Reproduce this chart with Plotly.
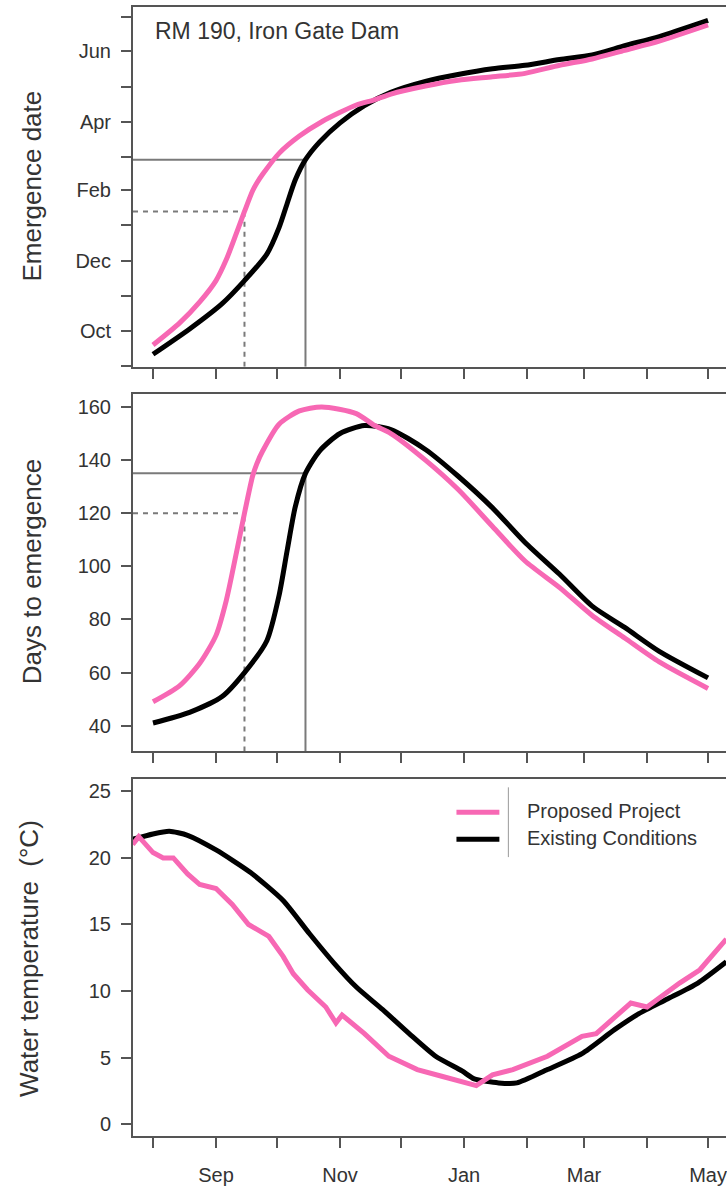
import pandas as pd
import plotly.graph_objects as go

# ---- Days to emergence by spawning date ----
spawn_dates_proposed = [
    "2001-08-01", "2001-08-14", "2001-08-24", "2001-09-01", "2001-09-06",
    "2001-09-11", "2001-09-15", "2001-09-19", "2001-09-21", "2001-09-24",
    "2001-10-02", "2001-10-12", "2001-10-23", "2001-11-09", "2001-11-18",
    "2001-11-26", "2001-12-13", "2001-12-29", "2002-01-15", "2002-01-31",
    "2002-02-17", "2002-03-05", "2002-03-21", "2002-04-07", "2002-05-01",
]
days_proposed = [
    49, 55, 63.5, 74, 87,
    105, 120, 134, 138.5, 143.5,
    153.5, 158.5, 160, 157.5, 153,
    150, 140, 129, 115, 102,
    92, 81.5, 73, 64, 54,
]

spawn_dates_existing = [
    "2001-08-01", "2001-08-19", "2001-09-04", "2001-09-15", "2001-09-26",
    "2001-10-02", "2001-10-06", "2001-10-10", "2001-10-15", "2001-10-22",
    "2001-11-01", "2001-11-13", "2001-11-26", "2001-12-13", "2001-12-29",
    "2002-01-15", "2002-01-31", "2002-02-17", "2002-03-05", "2002-03-21",
    "2002-04-07", "2002-05-01",
]
days_existing = [
    41, 45, 51, 60, 72,
    89, 106, 122.5, 135, 143.5,
    150, 153, 151.5, 144, 134,
    122, 109, 97, 85, 77,
    68, 58,
]

# ---- Water temperature (deg C) ----
temp_dates_proposed = [
    "2001-07-22", "2001-07-25", "2001-08-01", "2001-08-06", "2001-08-11",
    "2001-08-18", "2001-08-24", "2001-09-01", "2001-09-09", "2001-09-17",
    "2001-09-27", "2001-10-04", "2001-10-09", "2001-10-16", "2001-10-25",
    "2001-10-30", "2001-11-02", "2001-11-13", "2001-11-25", "2001-12-09",
    "2001-12-21", "2002-01-04", "2002-01-07", "2002-01-15", "2002-01-25",
    "2002-02-11", "2002-02-28", "2002-03-07", "2002-03-24", "2002-04-01",
    "2002-04-17", "2002-04-27", "2002-05-10",
]
temp_proposed = [
    21.0, 21.6, 20.4, 20.0, 20.0,
    18.8, 18.0, 17.7, 16.5, 15.0,
    14.1, 12.6, 11.3, 10.1, 8.8,
    7.6, 8.2, 6.8, 5.1, 4.1,
    3.6, 3.1, 2.9, 3.7, 4.1,
    5.1, 6.6, 6.8, 9.1, 8.8,
    10.6, 11.6, 13.9,
]

temp_dates_existing = [
    "2001-07-22", "2001-08-01", "2001-08-09", "2001-08-18", "2001-09-01",
    "2001-09-18", "2001-10-04", "2001-10-17", "2001-10-29", "2001-11-09",
    "2001-11-22", "2001-12-05", "2001-12-18", "2001-12-31", "2002-01-06",
    "2002-01-18", "2002-01-27", "2002-02-11", "2002-02-28", "2002-03-16",
    "2002-03-28", "2002-04-11", "2002-04-26", "2002-05-10",
]
temp_existing = [
    21.4, 21.8, 22.0, 21.7, 20.6,
    18.9, 16.8, 14.3, 12.1, 10.3,
    8.6, 6.8, 5.1, 4.0, 3.4,
    3.1, 3.1, 4.1, 5.3, 7.1,
    8.3, 9.4, 10.6, 12.2,
]

# ---- Example spawning dates marked with guide lines ----
guide_spawn_proposed = "2001-09-15"
guide_days_proposed = 120
guide_spawn_existing = "2001-10-15"
guide_days_existing = 135

# ---- Tick labels ----
x_tick_dates = ["2001-08-01", "2001-09-01", "2001-10-01", "2001-11-01", "2001-12-01",
                "2002-01-01", "2002-02-01", "2002-03-01", "2002-04-01", "2002-05-01"]
x_tick_labels = ["", "Sep", "", "Nov", "", "Jan", "", "Mar", "", "May"]
y_tick_dates = ["2001-09-01", "2001-10-01", "2001-11-01", "2001-12-01", "2002-01-01",
                "2002-02-01", "2002-03-01", "2002-04-01", "2002-05-01", "2002-06-01",
                "2002-07-01"]
y_tick_labels = ["", "Oct", "", "Dec", "", "Feb", "", "Apr", "", "Jun", ""]
days_ticks = [40, 60, 80, 100, 120, 140, 160]
temp_ticks = [0, 5, 10, 15, 20, 25]

PINK = "#F768B4"
BLACK = "#000000"
AXIS = "#555555"
GUIDE = "#7a7a7a"
TEXT = "#333333"
FONT = "Liberation Sans, Arial, sans-serif"

W, H = 727, 1186
ML = 133

x_range = ["2001-07-22 04:00", "2002-05-09 20:00"]
date_y_range = ["2001-08-31 03:00", "2002-07-09 16:00"]
days_range = [30.3, 165]
temp_range = [-0.9, 25.9]


def px_x(px):
    return (px - ML) / (W - ML)


def px_y(py):
    return 1 - py / H


# emergence date = spawning date + days to emergence
emerge_proposed = pd.to_datetime(spawn_dates_proposed) + pd.to_timedelta(days_proposed, unit="D")
emerge_existing = pd.to_datetime(spawn_dates_existing) + pd.to_timedelta(days_existing, unit="D")
guide_emerge_proposed = pd.Timestamp(guide_spawn_proposed) + pd.Timedelta(days=guide_days_proposed)
guide_emerge_existing = pd.Timestamp(guide_spawn_existing) + pd.Timedelta(days=guide_days_existing)

fig = go.Figure()

line_kw = dict(mode="lines", showlegend=False, hoverinfo="skip")
smooth = dict(width=5, shape="spline", smoothing=0.7)

# top panel: emergence date
fig.add_trace(go.Scatter(x=spawn_dates_existing, y=emerge_existing, xaxis="x", yaxis="y",
                         line=dict(color=BLACK, **smooth), **line_kw))
fig.add_trace(go.Scatter(x=spawn_dates_proposed, y=emerge_proposed, xaxis="x", yaxis="y",
                         line=dict(color=PINK, **smooth), **line_kw))

# middle panel: days to emergence
fig.add_trace(go.Scatter(x=spawn_dates_existing, y=days_existing, xaxis="x2", yaxis="y2",
                         line=dict(color=BLACK, **smooth), **line_kw))
fig.add_trace(go.Scatter(x=spawn_dates_proposed, y=days_proposed, xaxis="x2", yaxis="y2",
                         line=dict(color=PINK, **smooth), **line_kw))

# bottom panel: water temperature
fig.add_trace(go.Scatter(x=temp_dates_existing, y=temp_existing, xaxis="x3", yaxis="y3",
                         line=dict(color=BLACK, width=5, shape="spline", smoothing=0.6), **line_kw))
fig.add_trace(go.Scatter(x=temp_dates_proposed, y=temp_proposed, xaxis="x3", yaxis="y3",
                         line=dict(color=PINK, width=5), **line_kw))

x_common = dict(
    type="date", range=x_range, tickvals=x_tick_dates, ticktext=x_tick_labels,
    ticks="outside", ticklen=10, tickwidth=2, tickcolor=AXIS,
    showline=True, linecolor=AXIS, linewidth=2, mirror=True,
    showgrid=False, zeroline=False, domain=[0, 1],
    ticklabeloverflow="allow",
    tickfont=dict(family=FONT, size=20, color=TEXT),
)
y_common = dict(
    ticks="outside", ticklen=10, tickwidth=2, tickcolor=AXIS,
    showline=True, linecolor=AXIS, linewidth=2, mirror=False,
    showgrid=False, zeroline=False, ticklabelstandoff=6,
    tickfont=dict(family=FONT, size=20, color=TEXT),
)

shapes = []


def guide(xref, yref, x0, y0, x1, y1, dash):
    shapes.append(dict(type="line", xref=xref, yref=yref, x0=x0, y0=y0, x1=x1, y1=y1,
                       line=dict(color=GUIDE, width=2, dash=dash), layer="below"))


DOTS = "5px,5px"

# guide lines, top panel: spawning date -> emergence date
guide("x", "y", x_range[0], guide_emerge_existing, guide_spawn_existing, guide_emerge_existing, "solid")
guide("x", "y", guide_spawn_existing, date_y_range[0], guide_spawn_existing, guide_emerge_existing, "solid")
guide("x", "y", x_range[0], guide_emerge_proposed, guide_spawn_proposed, guide_emerge_proposed, DOTS)
guide("x", "y", guide_spawn_proposed, date_y_range[0], guide_spawn_proposed, guide_emerge_proposed, DOTS)

# guide lines, middle panel: spawning date -> days to emergence
guide("x2", "y2", x_range[0], guide_days_existing, guide_spawn_existing, guide_days_existing, "solid")
guide("x2", "y2", guide_spawn_existing, days_range[0], guide_spawn_existing, guide_days_existing, "solid")
guide("x2", "y2", x_range[0], guide_days_proposed, guide_spawn_proposed, guide_days_proposed, DOTS)
guide("x2", "y2", guide_spawn_proposed, days_range[0], guide_spawn_proposed, guide_days_proposed, DOTS)

# legend in the bottom panel
shapes.append(dict(type="line", xref="paper", yref="paper", x0=px_x(457), x1=px_x(500),
                   y0=px_y(815), y1=px_y(815), line=dict(color=PINK, width=5)))
shapes.append(dict(type="line", xref="paper", yref="paper", x0=px_x(457), x1=px_x(500),
                   y0=px_y(842), y1=px_y(842), line=dict(color=BLACK, width=5)))
shapes.append(dict(type="line", xref="paper", yref="paper", x0=px_x(509), x1=px_x(509),
                   y0=px_y(790), y1=px_y(860), line=dict(color="#999999", width=1)))

annotations = [
    dict(text="RM 190, Iron Gate Dam", xref="paper", yref="paper", x=px_x(153), y=px_y(31),
         xanchor="left", yanchor="middle", showarrow=False,
         font=dict(family=FONT, size=23, color=TEXT)),
    dict(text="Proposed Project", xref="paper", yref="paper", x=px_x(526), y=px_y(814),
         xanchor="left", yanchor="middle", showarrow=False,
         font=dict(family=FONT, size=20, color=TEXT)),
    dict(text="Existing Conditions", xref="paper", yref="paper", x=px_x(526), y=px_y(841),
         xanchor="left", yanchor="middle", showarrow=False,
         font=dict(family=FONT, size=20, color=TEXT)),
    dict(text="Emergence date", xref="paper", yref="paper", x=px_x(32), y=px_y(187),
         xanchor="center", yanchor="middle", textangle=-90, showarrow=False,
         font=dict(family=FONT, size=26, color=TEXT)),
    dict(text="Days to emergence", xref="paper", yref="paper", x=px_x(32), y=px_y(574),
         xanchor="center", yanchor="middle", textangle=-90, showarrow=False,
         font=dict(family=FONT, size=26, color=TEXT)),
    dict(text="Water temperature\u00a0 (\u00b0C)", xref="paper", yref="paper", x=px_x(29),
         y=px_y(962), xanchor="center", yanchor="middle", textangle=-90, showarrow=False,
         font=dict(family=FONT, size=26, color=TEXT)),
]

fig.update_layout(
    width=W, height=H,
    margin=dict(l=ML, r=0, t=0, b=0),
    paper_bgcolor="white", plot_bgcolor="white",
    showlegend=False,
    xaxis=dict(x_common, anchor="y", showticklabels=False),
    xaxis2=dict(x_common, anchor="y2", showticklabels=False),
    xaxis3=dict(x_common, anchor="y3", showticklabels=True, ticklabelstandoff=10),
    yaxis=dict(y_common, type="date", anchor="x",
               domain=[px_y(368), px_y(7)], range=date_y_range,
               tickvals=y_tick_dates, ticktext=y_tick_labels),
    yaxis2=dict(y_common, anchor="x2", domain=[px_y(754), px_y(395)],
                range=days_range, tickvals=days_ticks),
    yaxis3=dict(y_common, anchor="x3", domain=[px_y(1140), px_y(782)],
                range=temp_range, tickvals=temp_ticks),
    shapes=shapes,
    annotations=annotations,
)

fig.write_html("out.html")
